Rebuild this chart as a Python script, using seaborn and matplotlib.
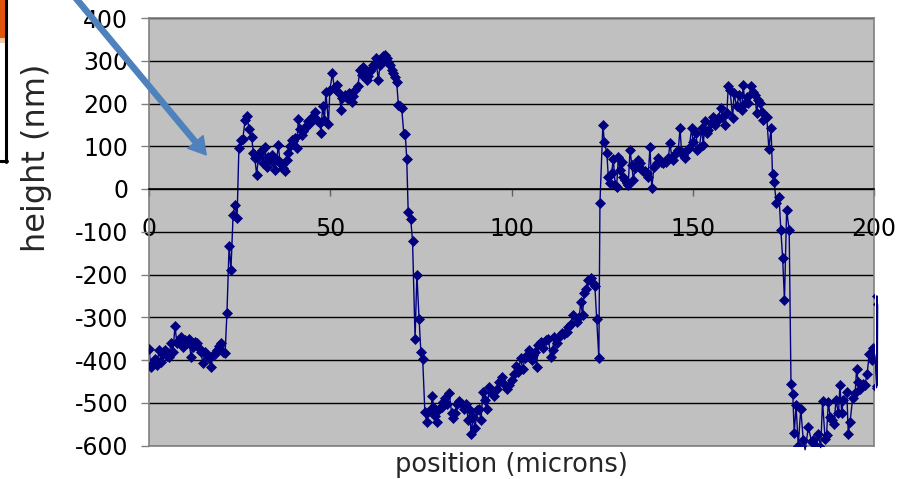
import matplotlib
matplotlib.use("Agg")
import matplotlib.pyplot as plt
from matplotlib.patches import Rectangle, FancyArrowPatch
from matplotlib.lines import Line2D
import seaborn as sns
import pandas as pd

# Surface profile along the scan line
position_um = [
    0.0, 0.55, 1.1, 1.66, 2.2, 2.76, 3.3, 3.86, 4.4, 4.97,
    5.5, 6.07, 6.6, 7.17, 7.7, 8.28, 8.83, 9.38, 9.93, 10.5,
    11.0, 11.6, 12.1, 12.7, 13.2, 13.8, 14.3, 14.9, 15.4, 16.0,
    16.6, 17.1, 17.7, 18.2, 18.8, 19.3, 19.9, 20.4, 21.0, 21.5,
    22.1, 22.6, 23.2, 23.7, 24.3, 24.8, 25.4, 25.9, 26.5, 27.0,
    27.6, 28.3, 28.8, 29.2, 29.7, 30.2, 30.6, 31.1, 31.5, 32.0,
    32.5, 32.9, 33.4, 33.8, 34.3, 34.8, 35.2, 35.7, 36.1, 36.6,
    37.0, 37.5, 38.0, 38.4, 38.9, 39.4, 39.8, 40.3, 40.7, 41.2,
    41.7, 42.1, 42.6, 43.0, 43.5, 43.9, 44.4, 44.9, 45.3, 45.8,
    46.3, 46.7, 47.2, 47.4, 47.9, 48.4, 48.8, 49.5, 49.9, 50.6,
    51.1, 51.8, 52.4, 53.0, 53.3, 54.1, 54.5, 55.2, 55.9, 56.4,
    56.8, 57.6, 58.2, 58.7, 59.1, 59.6, 60.1, 60.5, 61.0, 61.4,
    61.9, 62.5, 63.3, 63.7, 64.2, 64.6, 65.1, 65.6, 66.0, 66.5,
    66.9, 67.4, 67.9, 68.3, 68.8, 69.2, 69.7, 70.3, 70.7, 71.1,
    71.5, 72.2, 72.7, 73.4, 73.9, 74.5, 75.0, 75.5, 76.1, 76.6,
    77.0, 77.7, 78.2, 78.4, 78.9, 79.4, 79.8, 80.3, 80.7, 81.2,
    81.7, 82.1, 82.8, 83.5, 83.9, 84.4, 85.0, 85.6, 86.3, 86.9,
    87.4, 88.1, 88.6, 88.8, 89.5, 89.9, 90.6, 91.0, 91.6, 92.1,
    92.7, 93.2, 93.9, 94.5, 95.3, 95.9, 96.6, 97.3, 97.9, 98.7,
    99.4, 100.1, 100.7, 101.2, 101.9, 102.5, 103.1, 103.7, 104.4, 104.9,
    105.6, 106.0, 106.5, 106.9, 107.4, 108.1, 108.8, 109.5, 110.2, 110.8,
    111.4, 111.7, 112.5, 113.2, 113.8, 114.5, 115.2, 115.7, 116.3, 117.0,
    118.0, 118.7, 119.1, 119.6, 120.0, 120.6, 121.2, 121.8, 122.4, 123.0,
    123.5, 124.1, 124.4, 125.2, 125.6, 126.3, 126.7, 127.2, 127.6, 128.1,
    128.6, 129.0, 129.5, 129.9, 130.4, 130.8, 131.3, 131.8, 132.2, 132.7,
    133.2, 133.6, 134.1, 134.5, 135.0, 135.4, 135.9, 136.4, 136.8, 137.3,
    137.7, 138.2, 138.7, 139.3, 140.1, 140.5, 141.2, 141.9, 142.6, 143.3,
    143.7, 144.2, 144.6, 145.4, 146.0, 146.5, 146.9, 147.4, 147.9, 148.3,
    149.0, 149.7, 150.1, 150.9, 151.3, 151.8, 152.5, 152.9, 153.4, 153.9,
    154.3, 154.9, 155.5, 156.1, 156.6, 157.0, 157.7, 158.2, 158.9, 159.4,
    159.8, 160.3, 161.0, 161.4, 162.1, 162.8, 163.5, 163.9, 164.4, 164.9,
    165.3, 166.0, 166.7, 167.2, 167.6, 168.1, 168.6, 169.0, 169.5, 170.4,
    171.0, 171.6, 172.0, 172.5, 173.0, 173.8, 174.3, 174.8, 175.3, 175.9,
    176.6, 177.1, 177.6, 178.0, 178.5, 179.1, 179.8, 180.5, 181.0, 181.9,
    182.8, 183.3, 184.0, 184.6, 185.3, 185.8, 186.5, 186.9, 187.4, 187.9,
    188.3, 189.0, 189.5, 190.2, 190.6, 191.1, 191.5, 192.5, 192.9, 193.4,
    194.1, 194.8, 195.2, 195.6, 196.1, 196.9, 197.5, 198.1, 198.7, 199.4,
    199.8, 200.3, 200.7, 200.8, 200.9, 201.0,
]
height_nm = [
    -375, -416, -408, -398, -412, -377, -404, -385, -377, -390,
    -393, -361, -381, -321, -361, -354, -346, -369, -354, -361,
    -350, -393, -369, -358, -361, -372, -381, -408, -381, -389,
    -395, -416, -389, -385, -377, -368, -361, -381, -383, -290,
    -133, -190, -60, -37, -67, 97, 115, 118, 162, 171,
    140, 122, 84, 72, 33, 76, 84, 91, 60, 99,
    52, 76, 70, 80, 62, 44, 68, 103, 64, 56,
    50, 41, 68, 84, 100, 115, 112, 119, 95, 163,
    140, 126, 135, 142, 150, 158, 155, 162, 170, 181,
    162, 158, 154, 132, 193, 162, 228, 152, 232, 271,
    236, 243, 224, 185, 212, 220, 212, 224, 204, 218,
    232, 240, 279, 267, 286, 271, 255, 265, 275, 282,
    290, 306, 255, 290, 300, 310, 314, 306, 298, 290,
    279, 271, 262, 251, 197, 195, 189, 129, 128, 70,
    -53, -71, -121, -350, -200, -303, -381, -398, -521, -546,
    -521, -517, -485, -510, -530, -545, -517, -512, -510, -498,
    -490, -502, -477, -525, -535, -525, -503, -496, -502, -514,
    -503, -541, -517, -572, -533, -560, -517, -514, -541, -475,
    -494, -514, -464, -478, -485, -469, -451, -440, -455, -467,
    -459, -447, -432, -415, -428, -396, -420, -396, -389, -377,
    -400, -389, -381, -416, -365, -358, -373, -354, -350, -393,
    -377, -346, -361, -346, -337, -340, -334, -323, -315, -295,
    -311, -299, -264, -295, -244, -233, -213, -209, -221, -227,
    -303, -396, -33, 150, 111, 84, 29, 13, 37, 70,
    9, 5, 76, 44, 64, 29, 21, 13, 9, 91,
    56, 21, 48, 55, 68, 60, 44, 42, 41, 37,
    29, 98, 2, 52, 60, 72, 64, 60, 64, 72,
    108, 76, 68, 84, 91, 142, 87, 80, 72, 91,
    95, 142, 111, 130, 91, 95, 142, 103, 158, 130,
    138, 154, 169, 150, 158, 166, 189, 169, 150, 177,
    240, 232, 166, 224, 193, 220, 185, 244, 201, 216,
    201, 240, 228, 220, 177, 208, 201, 181, 162, 169,
    94, 142, 35, 17, -33, -18, -96, -162, -260, -49,
    -96, -455, -480, -571, -506, -600, -514, -588, -610, -557,
    -592, -588, -600, -572, -605, -496, -584, -576, -498, -533,
    -541, -549, -494, -525, -459, -525, -494, -475, -572, -545,
    -490, -478, -420, -451, -467, -455, -459, -432, -386, -400,
    -373, -393, -465, -250, -460, -270,
]

x_ticks = [0, 50, 100, 150, 200]
y_ticks = [-600, -500, -400, -300, -200, -100, 0, 100, 200, 300, 400]
x_label = "position (microns)"
y_label = "height (nm)"

profile = pd.DataFrame({"position": position_um, "height": height_nm})

sns.set_theme(style="white")
plt.rcParams["font.family"] = ["DejaVu Sans"]
plt.rcParams["axes.unicode_minus"] = False

W, H = 917, 479
fig = plt.figure(figsize=(W / 100, H / 100), dpi=100)
fig.patch.set_facecolor("white")
ax = fig.add_axes([149 / W, 1 - 445.5 / H, (874 - 149) / W, (445.5 - 18) / H])
ax.set_facecolor("#C0C0C0")

navy = "#000080"
sns.lineplot(data=profile, x="position", y="height", ax=ax, sort=False,
             estimator=None, color=navy, linewidth=1.0)
for ln in ax.lines:
    ln.set_clip_on(False)
sns.scatterplot(data=profile, x="position", y="height", ax=ax, marker="D",
                s=26, color=navy, edgecolor=navy, linewidth=0.5, zorder=3)

ax.set_xlim(0, 200)
ax.set_ylim(-600, 400)
ax.set_xticks(x_ticks)
ax.set_yticks(y_ticks)
ax.set_xticklabels([str(v) for v in x_ticks])
ax.set_yticklabels([str(v) for v in y_ticks])
ax.set_xlabel("")
ax.set_ylabel("")

ax.grid(axis="y", color="black", linewidth=1.0)
ax.grid(axis="x", visible=False)
ax.set_axisbelow(True)

# frame of the plot area
for side in ["top", "right", "left"]:
    ax.spines[side].set_visible(True)
    ax.spines[side].set_color("#808080")
    ax.spines[side].set_linewidth(1.2)
ax.spines["bottom"].set_position(("data", 0))
ax.spines["bottom"].set_color("black")
ax.spines["bottom"].set_linewidth(1.2)
ax.add_line(Line2D([0, 1], [0, 0], transform=ax.transAxes, color="#808080",
                   linewidth=1.2, clip_on=False, zorder=1))

ax.tick_params(axis="y", direction="out", length=6, width=1, color="#808080",
               pad=9, labelsize=17, labelcolor="black", left=True)
ax.tick_params(axis="x", direction="out", length=5, width=1, color="#606060",
               pad=15, labelsize=17, labelcolor="black", bottom=True)

fig.text(511 / W, 1 - 465 / H, x_label, ha="center", va="center", fontsize=18.5)
fig.text(37 / W, 1 - 158 / H, y_label, ha="center", va="center",
         fontsize=23, rotation=90)

# pointer arrow
arrow = FancyArrowPatch((64 / W, 1 + 16 / H), (208 / W, 1 - 157 / H),
                        transform=fig.transFigure,
                        arrowstyle="simple,head_length=0.55,head_width=0.65,tail_width=0.17",
                        mutation_scale=22, color="#4F81BD", zorder=10)
fig.patches.append(arrow)

# edge of the inset picture on the left
fig.patches.append(Rectangle((0, 1 - 38 / H), 5 / W, 38 / H, transform=fig.transFigure,
                             facecolor="#E2540A", edgecolor="none", zorder=5))
fig.patches.append(Rectangle((0, 1 - 43 / H), 5 / W, 5 / H, transform=fig.transFigure,
                             facecolor="#F6C7A2", edgecolor="none", zorder=5))
fig.lines.append(Line2D([5.8 / W, 5.8 / W], [1, 1 - 162 / H], transform=fig.transFigure,
                        color="black", linewidth=2.2, zorder=6))
fig.lines.append(Line2D([0, 7 / W], [1 - 161 / H, 1 - 161 / H], transform=fig.transFigure,
                        color="black", linewidth=2.2, zorder=6))

fig.savefig("out.png", dpi=100, facecolor="white")
